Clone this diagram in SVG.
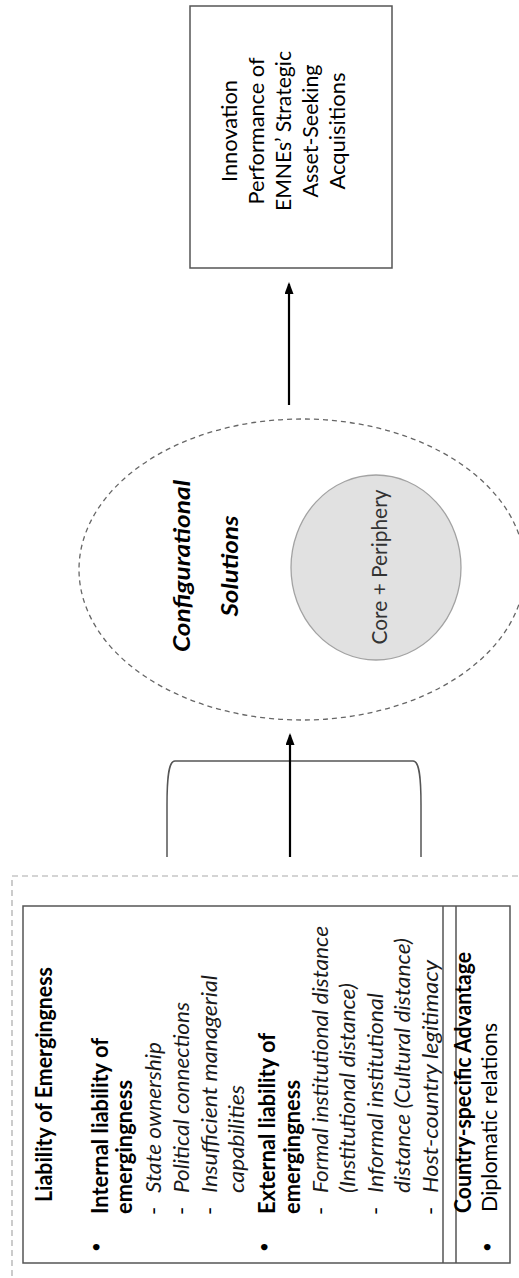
<svg xmlns="http://www.w3.org/2000/svg" width="519" height="1278" viewBox="0 0 519 1278">
<style>
text{font-family:Lato,"Open Sans","Liberation Sans",Arial,sans-serif;font-size:22px;fill:#000}
.b{font-weight:bold}
.i{font-style:italic;fill:#1a1a1a}
.bi{font-weight:bold;font-style:italic}
.m{text-anchor:middle}
.bul{font-size:17px;text-anchor:middle}
.box{fill:#fff;stroke:#555;stroke-width:1.5}
.line{fill:none;stroke:#555;stroke-width:1.5}
.arrow{fill:none;stroke:#000;stroke-width:2.2}
</style>
<defs>
<marker id="ah" markerUnits="userSpaceOnUse" markerWidth="12" markerHeight="9" refX="10" refY="4.5" orient="auto">
<path d="M0,0 L12,4.5 L0,9 z" fill="#000"/>
</marker>
</defs>
<rect width="519" height="1278" fill="#fff"/>

<g id="outcome">
<rect class="box" x="190" y="6" width="202" height="262"/>
<text class="m" transform="translate(237,131) rotate(-90)" textLength="102" lengthAdjust="spacingAndGlyphs">Innovation</text>
<text class="m" transform="translate(264,131) rotate(-90)" textLength="147" lengthAdjust="spacingAndGlyphs">Performance of</text>
<text class="m" transform="translate(291,131) rotate(-90)" textLength="160" lengthAdjust="spacingAndGlyphs">EMNEs’ Strategic</text>
<text class="m" transform="translate(318,131) rotate(-90)" textLength="133" lengthAdjust="spacingAndGlyphs">Asset-Seeking</text>
<text class="m" transform="translate(345,131) rotate(-90)" textLength="117" lengthAdjust="spacingAndGlyphs">Acquisitions</text>
</g>

<g id="configurational-solutions">
<ellipse cx="302" cy="569.5" rx="223" ry="150.5" fill="none" stroke="#666" stroke-width="1.3" stroke-dasharray="5,4"/>
<text class="bi m" font-size="23" transform="translate(190,566) rotate(-90)" textLength="172" lengthAdjust="spacingAndGlyphs">Configurational</text>
<text class="bi m" font-size="23" transform="translate(238,566) rotate(-90)" textLength="101" lengthAdjust="spacingAndGlyphs">Solutions</text>
</g>

<g id="core-periphery">
<ellipse cx="376" cy="567.5" rx="85" ry="92.5" fill="#e1e1e1" stroke="#a3a3a3" stroke-width="1.3"/>
<text class="m" style="fill:#333" transform="translate(387,567) rotate(-90)" textLength="155" lengthAdjust="spacingAndGlyphs">Core + Periphery</text>
</g>

<g id="antecedents">
<rect x="12" y="876" width="530" height="430" fill="none" stroke="#aaa" stroke-width="1.2" stroke-dasharray="6,4"/>
<rect class="box" x="23" y="906" width="487" height="357"/>
<line class="line" x1="443" y1="906" x2="443" y2="1263"/>
<line class="line" x1="456" y1="906" x2="456" y2="1263"/>

<text class="b" transform="translate(52,1202) rotate(-90)" textLength="235" lengthAdjust="spacingAndGlyphs">Liability of Emergingness</text>

<text class="bul" transform="translate(102,1247) rotate(-90)">•</text>
<text class="b" transform="translate(108,1214) rotate(-90)" textLength="176" lengthAdjust="spacingAndGlyphs">Internal liability of</text>
<text class="b" transform="translate(132,1214) rotate(-90)" textLength="134" lengthAdjust="spacingAndGlyphs">emergingness</text>
<text class="m" transform="translate(161,1211) rotate(-90)">-</text>
<text class="i" transform="translate(161,1193) rotate(-90)" textLength="151" lengthAdjust="spacingAndGlyphs">State ownership</text>
<text class="m" transform="translate(189,1211) rotate(-90)">-</text>
<text class="i" transform="translate(189,1193) rotate(-90)" textLength="191" lengthAdjust="spacingAndGlyphs">Political connections</text>
<text class="m" transform="translate(217,1211) rotate(-90)">-</text>
<text class="i" transform="translate(217,1193) rotate(-90)" textLength="218" lengthAdjust="spacingAndGlyphs">Insufficient managerial</text>
<text class="i" transform="translate(244,1193) rotate(-90)" textLength="108" lengthAdjust="spacingAndGlyphs">capabilities</text>

<text class="bul" transform="translate(270,1247) rotate(-90)">•</text>
<text class="b" transform="translate(275,1214) rotate(-90)" textLength="181" lengthAdjust="spacingAndGlyphs">External liability of</text>
<text class="b" transform="translate(300,1214) rotate(-90)" textLength="134" lengthAdjust="spacingAndGlyphs">emergingness</text>
<text class="m" transform="translate(328,1211) rotate(-90)">-</text>
<text class="i" transform="translate(328,1193) rotate(-90)" textLength="267" lengthAdjust="spacingAndGlyphs">Formal institutional distance</text>
<text class="i" transform="translate(355,1193) rotate(-90)" textLength="210" lengthAdjust="spacingAndGlyphs">(Institutional distance)</text>
<text class="m" transform="translate(383,1211) rotate(-90)">-</text>
<text class="i" transform="translate(383,1193) rotate(-90)" textLength="200" lengthAdjust="spacingAndGlyphs">Informal institutional</text>
<text class="i" transform="translate(410,1193) rotate(-90)" textLength="255" lengthAdjust="spacingAndGlyphs">distance (Cultural distance)</text>
<text class="m" transform="translate(438,1211) rotate(-90)">-</text>
<text class="i" transform="translate(438,1193) rotate(-90)" textLength="233" lengthAdjust="spacingAndGlyphs">Host-country legitimacy</text>

<text class="b" transform="translate(471,1213) rotate(-90)" textLength="261" lengthAdjust="spacingAndGlyphs">Country-specific Advantage</text>
<text class="bul" transform="translate(493,1247) rotate(-90)">•</text>
<text transform="translate(497,1212) rotate(-90)" textLength="189" lengthAdjust="spacingAndGlyphs">Diplomatic relations</text>
</g>

<g id="connectors">
<path id="bracket" class="line" d="M167,857 L167,805 C167,775 169,761 175,761 L413,761 C419,761 421,775 421,805 L421,857"/>
<line id="arrow-to-solutions" class="arrow" x1="290" y1="857" x2="290" y2="735" marker-end="url(#ah)"/>
<line id="arrow-to-outcome" class="arrow" x1="289" y1="405" x2="289" y2="284" marker-end="url(#ah)"/>
</g>
</svg>
